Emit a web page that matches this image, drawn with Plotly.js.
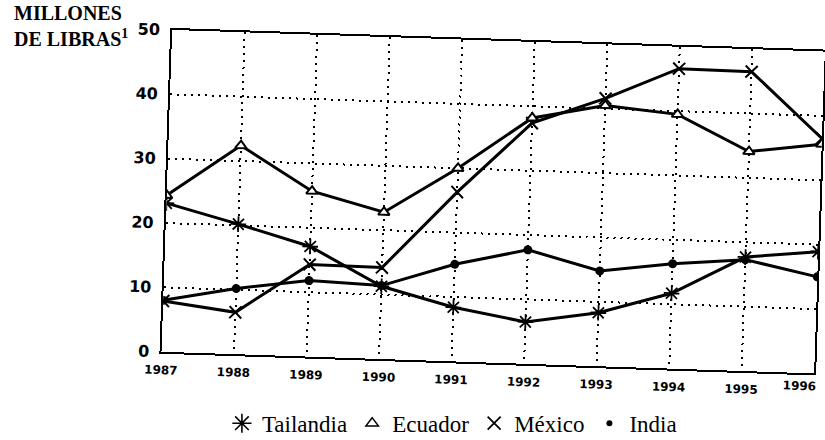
<!DOCTYPE html>
<html>
<head>
<meta charset="utf-8">
<script src="https://cdn.plot.ly/plotly-3.0.1.min.js"></script>
<style>
html,body{margin:0;padding:0;background:#fff;overflow:hidden;}
#wrap{position:relative;width:825px;height:440px;overflow:hidden;}
#chart{position:absolute;left:0;top:0;width:825px;height:440px;transform:rotate(1.9deg);transform-origin:412.5px 220px;}
#overlay{position:absolute;left:0;top:0;width:825px;height:440px;pointer-events:none;}
</style>
</head>
<body>
<div id="wrap">
<div id="chart"></div>
<div id="overlay"></div>
</div>
<script>
// Data (millones de libras)
const years = [1987, 1988, 1989, 1990, 1991, 1992, 1993, 1994, 1995, 1996];
const tailandia = [23.1, 20.2, 17.1, 11.3, 8.4, 6.5, 8.3, 11.7, 17.7, 18.9];
const ecuador   = [24.3, 32.4, 25.7, 22.8, 30.0, 38.2, 40.5, 39.5, 34.1, 35.6];
const mexico    = [7.9, 6.5, 14.3, 14.2, 26.3, 37.4, 41.6, 46.6, 46.5, 36.5];
const india     = [8.0, 10.2, 11.8, 11.4, 15.1, 17.7, 14.8, 16.3, 17.3, 15.0];
const seriesNames = ['Tailandia', 'Ecuador', 'México', 'India'];
const yTicks = [0, 10, 20, 30, 40, 50];
// the last year label sits at the page edge, so it is drawn right-aligned
const xTickVals = years.slice(0, -1);
const lastYear = years[years.length - 1];
const yTitle = 'MILLONES<br>DE LIBRAS<sup>1</sup>';

const black = '#000';
const serif = '"Liberation Serif", "Times New Roman", "DejaVu Serif", serif';
const lineStyle = {color: black, width: 3};
const xTickFont = {family: 'DejaVu Sans', size: 12, color: black, weight: 'bold'};

const markerStyles = [
  {symbol: 'asterisk-open', size: 13, color: black, line: {color: black, width: 1.8}},
  {symbol: 'triangle-up', size: 10, color: '#fff', line: {color: black, width: 2}},
  {symbol: 'x-thin-open', size: 12, color: black, line: {color: black, width: 2}},
  {symbol: 'circle', size: 9, color: black, line: {color: black, width: 0}}
];
const legendMarkers = [
  {symbol: 'asterisk-open', size: 16, color: black, line: {color: black, width: 1.6}},
  {symbol: 'triangle-up-open', size: 11, color: black, line: {color: black, width: 1.4}},
  {symbol: 'x-thin-open', size: 13, color: black, line: {color: black, width: 1.8}},
  {symbol: 'circle', size: 6, color: black, line: {color: black, width: 0}}
];

const seriesValues = [tailandia, ecuador, mexico, india];
const drawOrder = [0, 2, 3, 1];

// ---- main (slightly skewed, like the scanned original) plot ----
const traces = drawOrder.map(i => ({
  type: 'scatter', mode: 'lines+markers',
  x: years, y: seriesValues[i], name: seriesNames[i],
  line: lineStyle, marker: markerStyles[i],
  showlegend: false, hoverinfo: 'skip'
}));

const gridCommon = {
  showgrid: true, gridcolor: black, gridwidth: 2, griddash: '2px,5px',
  showline: true, mirror: true, linecolor: black, linewidth: 2,
  zeroline: false, ticks: '', fixedrange: true, automargin: false
};

const layout = {
  width: 825, height: 440,
  paper_bgcolor: 'rgba(0,0,0,0)', plot_bgcolor: '#fff',
  margin: {l: 166, r: 6, t: 38, b: 80, pad: 0, autoexpand: false},
  showlegend: false,
  xaxis: Object.assign({}, gridCommon, {
    range: [years[0], lastYear], tickmode: 'array', tickvals: xTickVals,
    ticktext: xTickVals.map(String),
    tickfont: xTickFont, ticklabelstandoff: 6
  }),
  yaxis: Object.assign({}, gridCommon, {
    range: [0, 50], tickmode: 'array', tickvals: yTicks, ticktext: yTicks.map(String),
    tickfont: {family: 'DejaVu Sans', size: 16, color: black, weight: 'bold'},
    ticklabelstandoff: 7
  }),
  annotations: [{
    text: String(lastYear), xref: 'x', yref: 'paper', x: lastYear, y: -0.041,
    xanchor: 'right', yanchor: 'middle', xshift: 4, showarrow: false, font: xTickFont
  }]
};

Plotly.newPlot('chart', traces, layout, {staticPlot: true, displayModeBar: false});

// ---- level overlay: legend and unit label ----
const legendTraces = seriesNames.map((n, i) => ({
  type: 'scatter', mode: 'markers', x: [null], y: [null], name: n,
  marker: legendMarkers[i], showlegend: true, hoverinfo: 'skip'
}));

const overlayLayout = {
  width: 825, height: 440,
  paper_bgcolor: 'rgba(0,0,0,0)', plot_bgcolor: 'rgba(0,0,0,0)',
  margin: {l: 0, r: 0, t: 0, b: 0, pad: 0, autoexpand: false},
  xaxis: {visible: false, range: [0, 1], fixedrange: true},
  yaxis: {visible: false, range: [0, 1], fixedrange: true},
  showlegend: true,
  legend: {
    orientation: 'h', xref: 'container', yref: 'container',
    x: 0.269, xanchor: 'left', y: 0.038, yanchor: 'middle',
    font: {family: serif, size: 23, color: black},
    bgcolor: 'rgba(0,0,0,0)', itemwidth: 30, borderwidth: 0
  },
  annotations: [{
    text: yTitle, xref: 'paper', yref: 'paper', x: 0.014, y: 0.94,
    xanchor: 'left', yanchor: 'middle', align: 'left', showarrow: false,
    font: {family: serif, size: 20, color: black, weight: 'bold'}
  }]
};

Plotly.newPlot('overlay', legendTraces, overlayLayout, {staticPlot: true, displayModeBar: false});
</script>
</body>
</html>
